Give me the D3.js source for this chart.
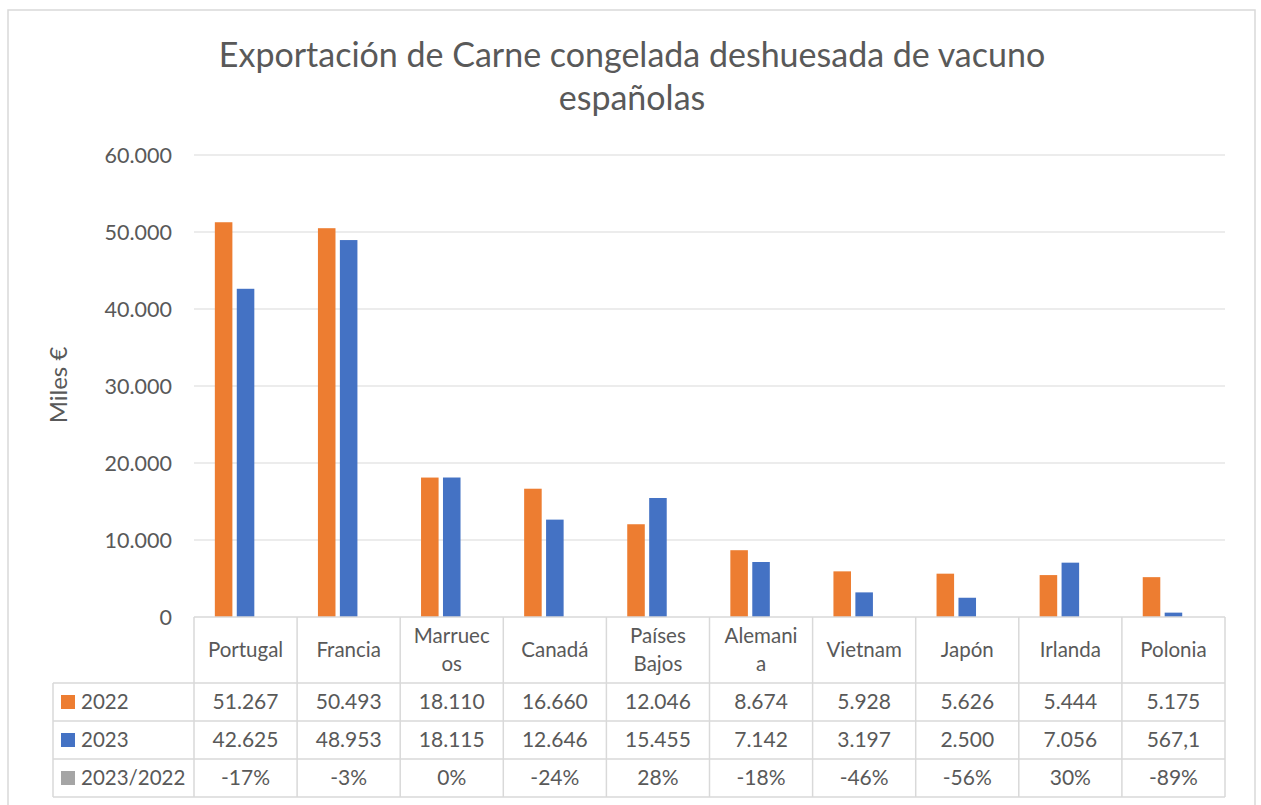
<!DOCTYPE html>
<html>
<head>
<meta charset="utf-8">
<script src="https://cdn.jsdelivr.net/npm/d3@7"></script>
<style>
  body { margin: 0; background: #fff; }
  svg text { font-family: Lato, "Liberation Sans", sans-serif; fill: #595959; }
</style>
</head>
<body>
<svg id="chart" width="1261" height="805"></svg>
<script>
const categories = ['Portugal', 'Francia', 'Marruecos', 'Canadá', 'Países Bajos', 'Alemania', 'Vietnam', 'Japón', 'Irlanda', 'Polonia']
// how Excel wrapped the header cells
const headerLines = {
  'Marruecos': ['Marruec', 'os'],
  'Países Bajos': ['Países', 'Bajos'],
  'Alemania': ['Alemani', 'a']
}
const seriesNames = ['2022', '2023', '2023/2022']
const values2022 = [51267, 50493, 18110, 16660, 12046, 8674, 5928, 5626, 5444, 5175]
const values2023 = [42625, 48953, 18115, 12646, 15455, 7142, 3197, 2500, 7056, 567.1]
const ratio = [-0.17, -0.03, 0.00, -0.24, 0.28, -0.18, -0.46, -0.56, 0.30, -0.89]
const yTicks = [0, 10000, 20000, 30000, 40000, 50000, 60000]

const colors = ['#ED7D31', '#4472C4', '#A5A5A5']
const series = [values2022, values2023, ratio]

const es = d3.formatLocale({ decimal: ',', thousands: '.', grouping: [3], currency: ['', '€'], minus: '-' })
const fInt = es.format(',.0f')
const fDec = es.format(',.1f')
const fPct = es.format('.0%')
const fmtVal = v => Number.isInteger(v) ? fInt(v) : fDec(v)

const svg = d3.select('#chart')
const W = 1261, H = 805
const plot = { left: 194, right: 1225, top: 155, bottom: 617 }
const table = { left: 53, header: 683, rowH: 38 }
const fs = 20.5

// outer frame
svg.append('path')
  .attr('d', `M8,${H + 2}V10H1255V${H + 2}`)
  .attr('fill', 'none').attr('stroke', '#d9d9d9').attr('stroke-width', 1.5)

// title
const title = svg.append('text')
  .attr('text-anchor', 'middle')
  .attr('font-size', 34)
title.append('tspan').attr('x', 632).attr('y', 67).text('Exportación de Carne congelada deshuesada de vacuno')
title.append('tspan').attr('x', 632).attr('y', 110).text('españolas')

const x = d3.scaleBand().domain(categories).range([plot.left, plot.right])
const x1 = d3.scaleBand().domain(seriesNames).range([0, x.bandwidth()]).paddingInner(0.2).paddingOuter(0.95)
const y = d3.scaleLinear().domain([0, 60000]).range([plot.bottom, plot.top])

// gridlines
svg.append('g')
  .selectAll('line')
  .data(yTicks.slice(1))
  .join('line')
    .attr('x1', plot.left).attr('x2', plot.right)
    .attr('y1', d => y(d)).attr('y2', d => y(d))
    .attr('stroke', '#d9d9d9').attr('stroke-width', 1)

// y axis labels
svg.append('g')
  .selectAll('text')
  .data(yTicks)
  .join('text')
    .attr('x', 172)
    .attr('y', d => y(d))
    .attr('dy', '0.35em')
    .attr('text-anchor', 'end')
    .attr('font-size', 21.5)
    .text(d => fInt(d))

svg.append('text')
  .attr('transform', 'translate(67,385) rotate(-90)')
  .attr('text-anchor', 'middle')
  .attr('font-size', 24)
  .text('Miles €')

// bars
const bars = svg.append('g')
series.forEach((vals, s) => {
  bars.append('g')
      .attr('fill', colors[s])
    .selectAll('rect')
    .data(vals.map((v, i) => ({ cat: categories[i], v })))
    .join('rect')
      .attr('x', d => x(d.cat) + x1(seriesNames[s]))
      .attr('width', x1.bandwidth())
      .attr('y', d => y(Math.max(0, d.v)))
      .attr('height', d => Math.abs(y(d.v) - y(0)))
})

// data table
const rows = [values2022.map(fmtVal), values2023.map(fmtVal), ratio.map(fPct)]
const tableBottom = table.header + table.rowH * rows.length
const grid = svg.append('g').attr('stroke', '#d9d9d9').attr('stroke-width', 1.5)

grid.append('line')
  .attr('x1', plot.left).attr('x2', plot.right)
  .attr('y1', plot.bottom).attr('y2', plot.bottom)
d3.range(rows.length + 1).forEach(r => {
  grid.append('line')
    .attr('x1', table.left).attr('x2', plot.right)
    .attr('y1', table.header + r * table.rowH).attr('y2', table.header + r * table.rowH)
})
grid.append('line')
  .attr('x1', table.left).attr('x2', table.left)
  .attr('y1', table.header).attr('y2', tableBottom)
grid.selectAll('.vline')
  .data(categories.map(c => x(c)).concat([plot.right]))
  .join('line')
    .attr('x1', d => d).attr('x2', d => d)
    .attr('y1', plot.bottom).attr('y2', tableBottom)

// header cells
const head = svg.append('g')
categories.forEach(c => {
  const lines = headerLines[c] || [c]
  const cy = (plot.bottom + table.header) / 2
  const t = head.append('text')
    .attr('text-anchor', 'middle')
    .attr('font-size', fs)
  lines.forEach((ln, i) => {
    t.append('tspan')
      .attr('x', x(c) + x.bandwidth() / 2)
      .attr('y', cy + (i - (lines.length - 1) / 2) * 28)
      .attr('dy', '0.35em')
      .text(ln)
  })
})

// value rows + legend keys
rows.forEach((row, r) => {
  const cy = table.header + r * table.rowH + table.rowH / 2
  svg.append('rect')
    .attr('x', 61).attr('y', cy - 7)
    .attr('width', 14).attr('height', 14)
    .attr('fill', colors[r])
  svg.append('text')
    .attr('x', 81).attr('y', cy).attr('dy', '0.35em')
    .attr('font-size', fs)
    .text(seriesNames[r])
  svg.append('g')
    .selectAll('text')
    .data(row)
    .join('text')
      .attr('x', (d, i) => x(categories[i]) + x.bandwidth() / 2)
      .attr('y', cy)
      .attr('dy', '0.35em')
      .attr('text-anchor', 'middle')
      .attr('font-size', 21)
      .text(d => d)
})
</script>
</body>
</html>
